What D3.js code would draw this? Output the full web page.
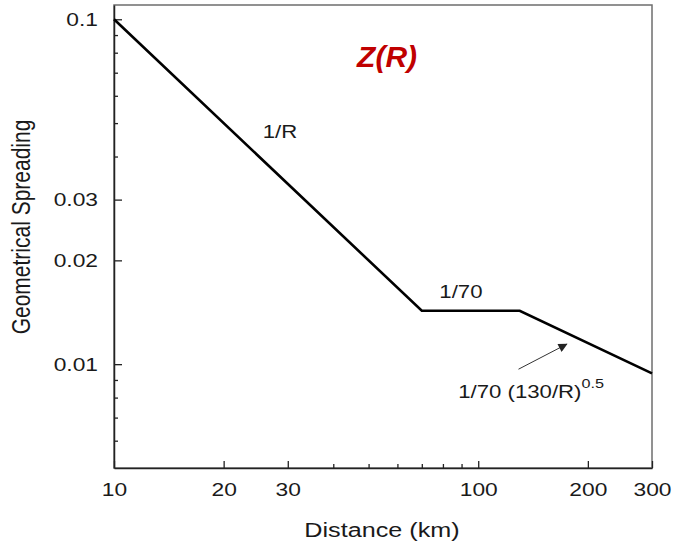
<!DOCTYPE html>
<html>
<head>
<meta charset="utf-8">
<script src="https://cdn.jsdelivr.net/npm/d3@7"></script>
<style>
  html, body { margin: 0; padding: 0; background: #fff; }
  svg { display: block; }
  text { font-family: "Liberation Sans", Arial, Helvetica, sans-serif; fill: #1a1a1a; }
</style>
</head>
<body>
<script>
// ---- data ----
const distances = [10, 70, 130, 300];                  // km
const spreading = [0.1, 1/70, 1/70, 0.0094];           // geometrical spreading
const xMajorTicks = [10, 20, 30, 100, 200, 300];
const xMinorTicks = [40, 50, 60, 70, 80, 90];
const yMajorTicks = [0.1, 0.03, 0.02, 0.01];
const yMinorTicks = [0.09, 0.08, 0.07, 0.06, 0.05, 0.04, 0.009, 0.008, 0.007, 0.006];
const xDomain = [10, 300];
const yDomain = [0.005, 0.11];
const segmentLabels = [
  { text: "1/R",  x: 25.6, y: 0.0454 },
  { text: "1/70", x: 78.2, y: 0.01556 }
];
const formulaLabel = { text: "1/70 (130/R)", sup: "0.5", x: 88.1, y: 0.00796 };
const arrowFrom = { x: 129, y: 0.00967 };
const arrowTo = { x: 175, y: 0.01143 };
const titleLabel = { text: "Z(R)", x: 56.2, y: 0.0725 };

// ---- layout ----
const W = 673, H = 544;
const mLeft = 114, mRight = 652, mTop = 5, mBottom = 468;
const SX = 1.2; // horizontal stretch of text in the reference

const svg = d3.select("body").append("svg").attr("width", W).attr("height", H);

const x = d3.scaleLog().domain(xDomain).range([mLeft, mRight]);
const y = d3.scaleLog().domain(yDomain).range([mBottom, mTop]);

// frame
svg.append("rect")
  .attr("x", mLeft).attr("y", mTop)
  .attr("width", mRight - mLeft).attr("height", mBottom - mTop)
  .attr("fill", "none").attr("stroke", "#6e6e6e").attr("stroke-width", 1.5);

// x axis major
const gx = svg.append("g").attr("transform", `translate(0,${mBottom})`)
  .call(d3.axisBottom(x).tickValues(xMajorTicks).tickFormat(d3.format("d"))
        .tickSizeInner(-7).tickSizeOuter(0).tickPadding(15));
gx.select(".domain").attr("stroke", "#222").attr("stroke-width", 1.5);
gx.selectAll(".tick line").attr("stroke", "#222").attr("stroke-width", 1.3);
gx.selectAll(".tick text")
  .attr("font-size", 19).attr("fill", "#1a1a1a")
  .attr("font-family", "Liberation Sans, Arial, sans-serif")
  .attr("transform", `scale(${SX},1)`);

// x axis minor
const gxm = svg.append("g").attr("transform", `translate(0,${mBottom})`)
  .call(d3.axisBottom(x).tickValues(xMinorTicks).tickFormat("")
        .tickSizeInner(-4).tickSizeOuter(0));
gxm.select(".domain").remove();
gxm.selectAll(".tick line").attr("stroke", "#222").attr("stroke-width", 1.3);

// y axis major
const gy = svg.append("g").attr("transform", `translate(${mLeft},0)`)
  .call(d3.axisLeft(y).tickValues(yMajorTicks).tickFormat(d => String(d))
        .tickSizeInner(-8).tickSizeOuter(0).tickPadding(14));
gy.select(".domain").attr("stroke", "#222").attr("stroke-width", 1.5);
gy.selectAll(".tick line").attr("stroke", "#222").attr("stroke-width", 1.3);
gy.selectAll(".tick text")
  .attr("font-size", 19).attr("fill", "#1a1a1a")
  .attr("font-family", "Liberation Sans, Arial, sans-serif")
  .attr("x", null)
  .attr("transform", `translate(-16,0) scale(${SX},1)`);

// y axis minor
const gym = svg.append("g").attr("transform", `translate(${mLeft},0)`)
  .call(d3.axisLeft(y).tickValues(yMinorTicks).tickFormat("")
        .tickSizeInner(-4).tickSizeOuter(0));
gym.select(".domain").remove();
gym.selectAll(".tick line").attr("stroke", "#222").attr("stroke-width", 1.3);

// axis titles
svg.append("text")
  .attr("transform", `translate(382,537) scale(${SX},1)`)
  .attr("text-anchor", "middle").attr("font-size", 21)
  .text("Distance (km)");

svg.append("text")
  .attr("transform", `translate(30,227) rotate(-90) scale(1,${SX})`)
  .attr("text-anchor", "middle").attr("font-size", 21)
  .text("Geometrical Spreading");

// data line
const pts = distances.map((d, i) => [d, spreading[i]]);
svg.append("path")
  .datum(pts)
  .attr("d", d3.line().x(d => x(d[0])).y(d => y(d[1])))
  .attr("fill", "none").attr("stroke", "#000").attr("stroke-width", 2.6)
  .attr("stroke-linejoin", "miter");

// segment labels
svg.selectAll("text.seg").data(segmentLabels).enter().append("text")
  .attr("class", "seg")
  .attr("transform", d => `translate(${x(d.x)},${y(d.y)}) scale(${SX},1)`)
  .attr("font-size", 18.5)
  .text(d => d.text);

// formula label with superscript
const ft = svg.append("text")
  .attr("transform", `translate(${x(formulaLabel.x)},${y(formulaLabel.y)}) scale(${SX},1)`)
  .attr("font-size", 18.5);
ft.append("tspan").text(formulaLabel.text);
ft.append("tspan").attr("font-size", 13.5).attr("dy", -10).text(formulaLabel.sup);

// arrow
const defs = svg.append("defs");
defs.append("marker").attr("id", "ah")
  .attr("viewBox", "0 0 10 10").attr("refX", 9).attr("refY", 5)
  .attr("markerWidth", 12).attr("markerHeight", 9).attr("markerUnits", "userSpaceOnUse")
  .attr("orient", "auto")
  .append("path").attr("d", "M0,0 L10,5 L0,10 Z").attr("fill", "#222");
svg.append("line")
  .attr("x1", x(arrowFrom.x)).attr("y1", y(arrowFrom.y))
  .attr("x2", x(arrowTo.x)).attr("y2", y(arrowTo.y))
  .attr("stroke", "#333").attr("stroke-width", 1)
  .attr("marker-end", "url(#ah)");

// Z(R) title
svg.append("text")
  .attr("x", x(titleLabel.x)).attr("y", y(titleLabel.y))
  .attr("text-anchor", "middle")
  .attr("font-size", 30).attr("font-weight", "bold").attr("font-style", "italic")
  .style("fill", "#c00000")
  .text(titleLabel.text);
</script>
</body>
</html>
